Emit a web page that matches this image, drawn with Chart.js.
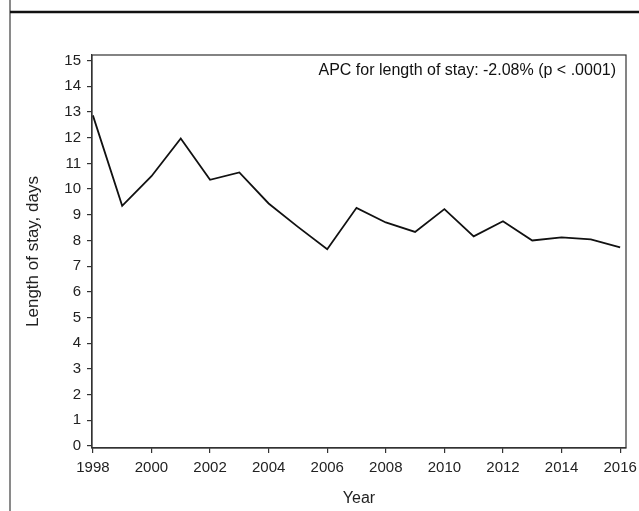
<!DOCTYPE html>
<html>
<head>
<meta charset="utf-8">
<script src="https://cdn.jsdelivr.net/npm/chart.js@4/dist/chart.umd.min.js"></script>
<style>
  html, body { margin: 0; padding: 0; background: #fff; }
  #wrap { width: 639px; height: 511px; }
</style>
</head>
<body>
<div id="wrap"><canvas id="myChart" width="639" height="511"></canvas></div>
<script>
var years = [1998, 1999, 2000, 2001, 2002, 2003, 2004, 2005, 2006, 2007,
    2008, 2009, 2010, 2011, 2012, 2013, 2014, 2015, 2016];
var lengthOfStay = [12.87, 9.35, 10.5, 11.97, 10.36, 10.65, 9.44, 8.53, 7.66, 9.27,
    8.7, 8.33, 9.22, 8.16, 8.75, 8.0, 8.12, 8.04, 7.73];
var xTickYears = [1998, 2000, 2002, 2004, 2006, 2008, 2010, 2012, 2014, 2016];
var yTickValues = [0, 1, 2, 3, 4, 5, 6, 7, 8, 9, 10, 11, 12, 13, 14, 15];
var apcText = "APC for length of stay: -2.08% (p < .0001)";

var fontFam = "'Liberation Sans', Arial, Helvetica, sans-serif";
var inkColor = '#222';

var points = [];
for (var i = 0; i < years.length; i++) {
    points.push({ x: years[i], y: lengthOfStay[i] });
}

// frame around the figure, box around plot area, APC note
var framePlugin = {
    id: 'frame',
    afterDraw: function (chart) {
        var c = chart.ctx;
        var a = chart.chartArea;
        c.save();
        c.strokeStyle = '#8a8a8a';
        c.lineWidth = 2;
        c.beginPath();
        c.moveTo(10, 0);
        c.lineTo(10, 511);
        c.stroke();
        c.strokeStyle = '#111';
        c.lineWidth = 2.5;
        c.beginPath();
        c.moveTo(10, 12);
        c.lineTo(639, 12);
        c.stroke();

        c.strokeStyle = '#333';
        c.lineWidth = 1.2;
        c.strokeRect(a.left, a.top, a.right - a.left, a.bottom - a.top);

        c.fillStyle = '#111';
        c.font = '16px ' + fontFam;
        c.textAlign = 'right';
        c.textBaseline = 'middle';
        c.fillText(apcText, a.right - 10, a.top + 16);
        c.restore();
    }
};

var ctx = document.getElementById("myChart");
var myChart = new Chart(ctx, {
    type: 'line',
    data: {
        datasets: [{
            data: points,
            borderColor: '#111',
            borderWidth: 1.8,
            pointRadius: 0,
            tension: 0,
            fill: false
        }]
    },
    options: {
        responsive: false,
        animation: false,
        layout: { padding: { left: 10, top: 55, right: 13, bottom: 0 } },
        plugins: {
            legend: { display: false },
            tooltip: { enabled: false }
        },
        scales: {
            x: {
                type: 'linear',
                min: 1997.97,
                max: 2016.2,
                afterBuildTicks: function (scale) {
                    scale.ticks = xTickYears.map(function (v) { return { value: v }; });
                },
                afterFit: function (scale) {
                    scale.height = 63;
                    scale.paddingLeft = 0;
                    scale.paddingRight = 0;
                },
                grid: { drawOnChartArea: false, tickLength: 5, color: '#333', lineWidth: 1.2 },
                border: { display: true, color: '#333', width: 1.2 },
                ticks: {
                    color: inkColor,
                    font: { family: fontFam, size: 15 },
                    maxRotation: 0,
                    autoSkip: false,
                    padding: 6,
                    callback: function (v) { return String(v); }
                },
                title: {
                    display: true,
                    text: 'Year',
                    color: inkColor,
                    font: { family: fontFam, size: 16 },
                    padding: { top: 4, bottom: 3 }
                }
            },
            y: {
                min: -0.08,
                max: 15.22,
                afterBuildTicks: function (scale) {
                    scale.ticks = yTickValues.map(function (v) { return { value: v }; });
                },
                afterFit: function (scale) {
                    scale.width = 82;
                    scale.paddingTop = 0;
                    scale.paddingBottom = 0;
                },
                grid: { drawOnChartArea: false, tickLength: 5, color: '#333', lineWidth: 1.2 },
                border: { display: true, color: '#333', width: 1.2 },
                ticks: {
                    color: inkColor,
                    font: { family: fontFam, size: 15 },
                    padding: 6
                },
                title: {
                    display: true,
                    text: 'Length of stay, days',
                    color: inkColor,
                    font: { family: fontFam, size: 17 },
                    padding: { top: 13, bottom: 0 }
                }
            }
        }
    },
    plugins: [framePlugin]
});
</script>
</body>
</html>
